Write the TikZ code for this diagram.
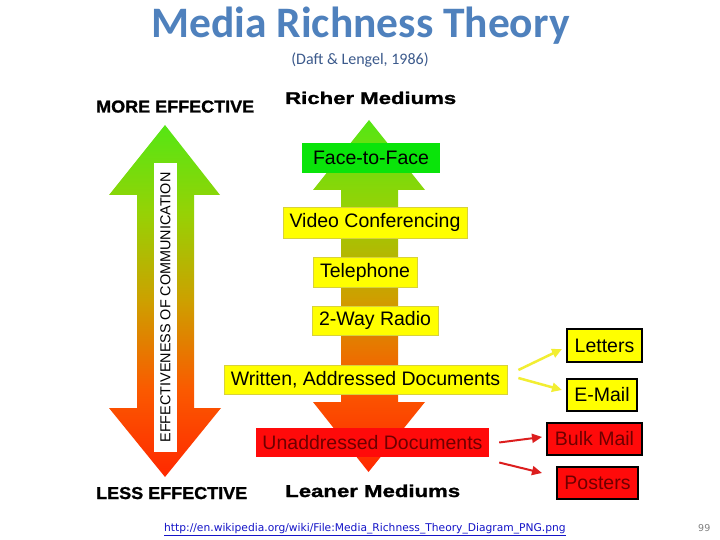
\documentclass[tikz,border=0pt]{standalone}
\usepackage{fontspec}
\usepackage{graphicx}
\usetikzlibrary{arrows.meta}
\setmainfont{Liberation Sans}
\newfontfamily\heavy[FakeBold=1.2]{Liberation Sans}
\newfontfamily\calib{Carlito}
\newfontfamily\dejavu{DejaVu Sans}
\definecolor{titleblue}{RGB}{79,129,189}
\definecolor{subblue}{RGB}{60,90,140}
\definecolor{ffgreen}{RGB}{10,228,10}
\definecolor{byellow}{RGB}{255,255,0}
\definecolor{yborder}{RGB}{215,210,60}
\definecolor{bred}{RGB}{255,10,10}
\definecolor{redtext}{RGB}{110,0,0}
\definecolor{ylwarrow}{RGB}{242,238,50}
\definecolor{redarrow}{RGB}{220,30,30}
\definecolor{urlblue}{RGB}{20,20,200}
\definecolor{g1}{RGB}{255,40,0}
\definecolor{g2}{RGB}{250,90,0}
\definecolor{g3}{RGB}{205,160,0}
\definecolor{g4}{RGB}{150,210,5}
\definecolor{g5}{RGB}{85,230,20}
\pgfdeclareverticalshading{mrt}{100bp}{color(0bp)=(g1); color(25bp)=(g1); color(37.5bp)=(g2); color(50bp)=(g3); color(62.5bp)=(g4); color(75bp)=(g5); color(100bp)=(g5)}
\tikzset{
  medbox/.style={inner sep=0pt, font=\fontsize{19.5}{22}\selectfont, text=black},
  ybox/.style={medbox, fill=byellow, draw=yborder, line width=0.8pt},
  gbox/.style={medbox, fill=ffgreen},
  rbox/.style={medbox, fill=bred, text=redtext},
  ybbox/.style={medbox, fill=byellow, draw=black, line width=2pt},
  rbbox/.style={medbox, fill=bred, draw=black, line width=2pt, text=redtext},
  yarr/.style={draw=ylwarrow, line width=2.5pt, -{Triangle[length=10pt,width=9pt]}},
  rarr/.style={draw=redarrow, line width=2pt, -{Triangle[length=10pt,width=9pt]}},
  biglabel/.style={anchor=base west, inner sep=0pt, text=black}
}
\begin{document}
\begin{tikzpicture}[x=1pt,y=-1pt]
\useasboundingbox[fill=white] (0,0) rectangle (720,540);
% title
\node[anchor=base, inner sep=0pt, text=titleblue, font=\calib\bfseries\fontsize{43.5}{48}\selectfont] (title) at (360.5,37.5) {Media Richness Theory};
\node[anchor=base, inner sep=0pt, text=subblue, font=\calib\fontsize{16}{18}\selectfont] (sub) at (360,65) {(Daft \& Lengel, 1986)};
% left double arrow
\shade[shading=mrt] (165,125) -- (220,195) -- (194,195) -- (194,408) -- (221,408) -- (165,477) -- (109,408) -- (137,408) -- (137,195) -- (109,195) -- cycle;
\fill[white] (154,163) rectangle (177,452);
\node[rotate=90, inner sep=0pt, font=\fontsize{14.4}{16}\selectfont] (eff) at (165.5,307.5) {EFFECTIVENESS OF COMMUNICATION};
% middle arrow
\shade[shading=mrt] (369,120) -- (425,190) -- (398,190) -- (398,402) -- (425,402) -- (368.5,472) -- (313,402) -- (341,402) -- (341,190) -- (313,190) -- cycle;
% labels
\node[biglabel] (more) at (96,112.5) {\resizebox{158pt}{12pt}{\heavy\bfseries MORE EFFECTIVE}};
\node[biglabel] (less) at (96,499) {\resizebox{151pt}{12pt}{\heavy\bfseries LESS EFFECTIVE}};
\node[biglabel] (richer) at (285,104) {\resizebox{171pt}{12.3pt}{\heavy\bfseries Richer Mediums}};
\node[biglabel] (leaner) at (285,497) {\resizebox{175pt}{12.5pt}{\heavy\bfseries Leaner Mediums}};
% medium boxes
\node[gbox, minimum width=138pt, minimum height=30pt] (ftf) at (371,158) {Face-to-Face};
\node[ybox, minimum width=184pt, minimum height=31pt] (video) at (375,222.5) {Video Conferencing};
\node[ybox, minimum width=104pt, minimum height=30pt] (tel) at (365,272) {Telephone};
\node[ybox, minimum width=126pt, minimum height=29pt] (radio) at (375,320.5) {2-Way Radio};
\node[ybox, minimum width=283pt, minimum height=29pt] (wad) at (365.5,379.5) {Written, Addressed Documents};
\node[rbox, minimum width=233pt, minimum height=29pt] (unad) at (372.5,442.5) {Unaddressed Documents};
% right boxes
\node[ybbox, minimum width=75pt, minimum height=33pt] (letters) at (604.5,345.5) {Letters};
\node[ybbox, minimum width=70pt, minimum height=32pt] (email) at (602,395) {E-Mail};
\node[rbbox, minimum width=95pt, minimum height=32pt] (bulk) at (594.5,439) {Bulk Mail};
\node[rbbox, minimum width=81pt, minimum height=32pt] (posters) at (597.5,483) {Posters};
% connectors
\draw[yarr] ([xshift=11pt,yshift=9.5pt]wad.east) -- ([xshift=-4pt,yshift=-3.5pt]letters.west);
\draw[yarr] ([xshift=11pt,yshift=1.5pt]wad.east) -- ([xshift=-4pt,yshift=5pt]email.west);
\draw[rarr] ([xshift=10pt,yshift=0pt]unad.east) -- ([xshift=-4pt,yshift=2pt]bulk.west);
\draw[rarr] ([xshift=10pt,yshift=-20pt]unad.east) -- ([xshift=-14pt,yshift=10pt]posters.west);
% footer
\node[anchor=base west, inner sep=0pt, text=urlblue, font=\dejavu\fontsize{10.7}{12}\selectfont] (url) at (164,531) {\underline{http://en.wikipedia.org/wiki/File:Media\_Richness\_Theory\_Diagram\_PNG.png}};
\node[anchor=base west, inner sep=0pt, text=gray, font=\dejavu\fontsize{9.5}{11}\selectfont] (pg) at (698,531) {99};
\end{tikzpicture}
\end{document}
